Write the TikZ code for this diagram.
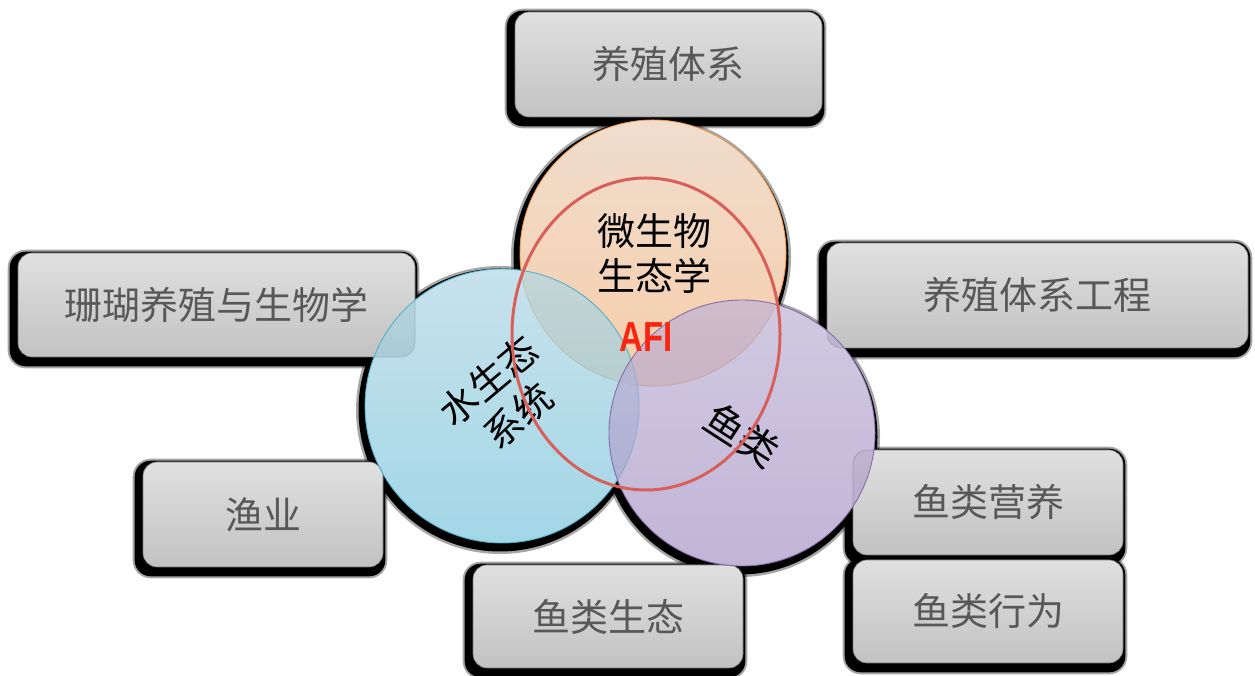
\documentclass[tikz,border=0pt]{standalone}
\usepackage{fontspec}
\newfontfamily\cjk{Noto Sans CJK SC}
\newfontfamily\afifont{Liberation Sans}
\usetikzlibrary{shapes.geometric}
\pgfdeclarelayer{shadowlayer}
\pgfdeclarelayer{knocklayer}
\pgfsetlayers{shadowlayer,knocklayer,main}
\definecolor{boxtop}{RGB}{224,224,224}
\definecolor{boxbot}{RGB}{194,194,194}
\definecolor{boxrim}{RGB}{120,120,120}
\definecolor{boxtext}{RGB}{88,88,88}
\definecolor{ortop}{RGB}{234,208,186}
\definecolor{orbot}{RGB}{244,184,132}
\definecolor{orline}{RGB}{245,150,70}
\definecolor{bltop}{RGB}{176,214,228}
\definecolor{blbot}{RGB}{124,198,222}
\definecolor{blline}{RGB}{75,172,198}
\definecolor{putop}{RGB}{190,180,214}
\definecolor{pubot}{RGB}{168,150,198}
\definecolor{puline}{RGB}{128,100,162}
\definecolor{ringred}{RGB}{217,96,90}
\definecolor{afitext}{RGB}{250,36,16}
\tikzset{
  tbox/.style={rectangle, rounded corners=14pt, minimum height=105pt, inner sep=0pt,
    top color=boxtop, bottom color=boxbot, draw=boxrim, line width=0.6pt,
    text=boxtext, font=\cjk\fontsize{38}{40}\selectfont},
  bubble/.style={circle, inner sep=0pt, fill opacity=0.7, draw opacity=0.9, line width=0.9pt},
  ctext/.style={text=black, align=center, inner sep=0pt},
}
\begin{document}
\begin{tikzpicture}[x=1pt,y=1pt]
\useasboundingbox (0,0) rectangle (1255,676);
\begin{pgfonlayer}{shadowlayer}
\fill[white] (0,0) rectangle (1255,676);
\end{pgfonlayer}
% boxes
\node[tbox, minimum width=307pt, minimum height=105pt] (b1) at (668.5,611.5) {养殖体系};
\node[tbox, minimum width=397pt, minimum height=104pt] (b2) at (216.5,371) {珊瑚养殖与生物学};
\node[tbox, minimum width=421pt, minimum height=105pt] (b3) at (1037.5,380.5) {养殖体系工程};
\node[tbox, minimum width=240pt, minimum height=105pt] (b4) at (263,161.5) {渔业};
\node[tbox, minimum width=270pt, minimum height=103pt] (b5) at (608,59.5) {鱼类生态};
\node[tbox, minimum width=270pt, minimum height=105pt] (b6) at (988,173.5) {鱼类营养};
\node[tbox, minimum width=270pt, minimum height=103pt] (b7) at (988,64.5) {鱼类行为};
% circles
\node[bubble, minimum size=266pt, top color=ortop, bottom color=orbot, draw=orline] (orange) at (653,423) {};
\node[bubble, minimum size=274pt, top color=bltop, bottom color=blbot, draw=blline] (blue) at (502,270) {};
\node[bubble, minimum size=266pt, top color=putop, bottom color=pubot, draw=puline] (purple) at (742,243) {};
% shadows and knock-outs
\begin{pgfonlayer}{shadowlayer}
\foreach \b in {b1,b2,b3,b4,b5,b6,b7}{
  \fill[black, opacity=0.35, rounded corners=18pt] ([shift={(-10pt,-11pt)}]\b.south west) rectangle ([shift={(4pt,3pt)}]\b.north east);
  \fill[black, rounded corners=16pt] ([shift={(-8pt,-9pt)}]\b.south west) rectangle ([shift={(2pt,1pt)}]\b.north east);
}
\fill[black, opacity=0.35] ([shift={(-2pt,-4pt)}]orange.center) circle (140);
\fill[black] ([shift={(-2pt,-4pt)}]orange.center) circle (137.5);
\fill[black, opacity=0.35] ([shift={(-2pt,-4pt)}]blue.center) circle (144);
\fill[black] ([shift={(-2pt,-4pt)}]blue.center) circle (141.5);
\fill[black, opacity=0.35] ([shift={(-2pt,-4pt)}]purple.center) circle (140);
\fill[black] ([shift={(-2pt,-4pt)}]purple.center) circle (137.5);
\end{pgfonlayer}
\begin{pgfonlayer}{knocklayer}
\fill[white] (orange.center) circle (133);
\fill[white] (blue.center) circle (137);
\fill[white] (purple.center) circle (133);
\end{pgfonlayer}
% circle texts
\node[ctext, font=\cjk\fontsize{38}{45}\selectfont] (t1) at (654,422.5) {微生物\\生态学};
\node[ctext, rotate=40, font=\cjk\fontsize{38}{46}\selectfont] (t2) at (503,278) {水生态\\系统};
\node[ctext, rotate=-33, font=\cjk\fontsize{40}{43}\selectfont] (t3) at (742,241) {鱼类};
% ring and AFI
\node[ellipse, draw=ringred, line width=3pt, minimum width=268pt, minimum height=312pt, inner sep=0pt] (ring) at (646,342) {};
\node[text=afitext, inner sep=0pt, font=\afifont\bfseries\fontsize{42}{42}\selectfont] (afi) at (646,339) {\scalebox{0.78}[1]{AFI}};
\end{tikzpicture}
\end{document}
